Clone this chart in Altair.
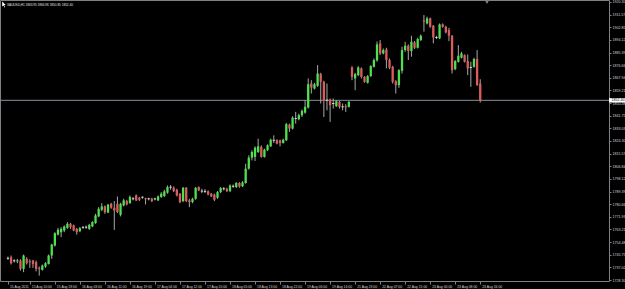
import json
import numpy as np
import pandas as pd
import altair as alt

symbol = "XAUUSD,H1"

opens = [1743.3,1744.0,1741.6,1741.3,1741.7,1736.0,1742.9,1741.3,1741.7,1740.6,
         1736.7,1735.3,1737.6,1739.4,1745.2,1752.1,1759.7,1761.3,1762.5,1764.3,
         1767.1,1766.0,1763.6,1762.0,1764.7,1764.8,1763.6,1765.3,1767.6,1772.2,
         1776.8,1779.1,1774.9,1780.9,1778.2,1780.9,1773.3,1779.8,1782.8,1781.4,
         1784.4,1786.7,1785.1,1785.5,1784.6,1784.4,1784.4,1784.3,1783.3,1785.6,
         1786.3,1788.6,1792.4,1792.0,1790.6,1787.9,1782.8,1792.0,1783.3,1782.1,
         1784.4,1792.5,1789.7,1789.5,1789.5,1787.9,1787.2,1785.1,1789.0,1791.3,
         1791.3,1789.7,1793.0,1792.5,1795.3,1793.0,1795.3,1805.2,1812.8,1813.3,
         1816.7,1820.2,1813.3,1817.9,1820.6,1824.8,1824.8,1824.8,1822.9,1824.8,
         1835.6,1832.9,1839.8,1839.3,1842.1,1843.9,1847.4,1864.0,1860.5,1862.4,
         1870.5,1865.2,1852.5,1852.9,1850.2,1848.3,1851.3,1847.9,1848.1,1847.9,
         1875.1,1867.5,1869.8,1874.4,1868.6,1864.5,1869.1,1875.5,1880.0,1891.7,
         1884.8,1887.5,1880.2,1875.5,1865.6,1862.9,1872.8,1887.1,1890.1,1886.4,
         1892.4,1888.7,1894.0,1907.6,1905.5,1909.0,1903.9,1895.8,1895.2,1904.8,
         1903.2,1900.9,1897.0,1873.9,1879.0,1881.8,1883.6,1879.5,1875.1,1875.5,
         1880.9,1863.95]
highs = [1744.5,1745.2,1742.6,1742.9,1742.6,1745.9,1744.0,1742.6,1742.2,1741.7,
         1737.6,1739.0,1740.6,1745.9,1753.3,1761.3,1764.3,1764.8,1766.0,1768.3,
         1767.8,1766.6,1764.3,1764.8,1765.5,1765.9,1767.1,1768.9,1774.0,1778.6,
         1781.4,1779.8,1780.9,1781.6,1782.8,1786.0,1781.6,1784.4,1783.7,1786.7,
         1785.6,1787.4,1785.6,1786.0,1785.1,1785.1,1785.1,1785.1,1786.7,1789.0,
         1790.6,1793.6,1793.9,1792.9,1791.3,1788.3,1792.5,1792.5,1784.4,1785.1,
         1792.5,1792.9,1791.3,1791.1,1790.2,1788.3,1787.9,1789.7,1792.5,1792.5,
         1792.0,1794.3,1794.3,1795.9,1795.9,1796.6,1808.6,1814.4,1817.9,1820.6,
         1825.9,1821.3,1819.0,1822.0,1825.9,1828.2,1825.5,1825.2,1825.9,1836.8,
         1836.3,1841.4,1844.4,1843.2,1846.0,1852.5,1867.5,1866.3,1864.5,1876.7,
         1871.4,1865.9,1864.0,1853.6,1853.6,1852.5,1852.0,1850.2,1849.7,1852.0,
         1876.0,1871.4,1876.0,1875.1,1869.1,1869.8,1876.7,1881.3,1893.0,1894.0,
         1888.2,1888.7,1881.3,1876.2,1866.3,1873.9,1889.4,1892.8,1891.0,1897.0,
         1893.3,1895.6,1897.9,1911.3,1910.2,1909.5,1904.4,1897.0,1905.5,1905.5,
         1903.9,1902.5,1897.5,1880.2,1890.5,1885.9,1884.1,1884.1,1879.0,1881.8,
         1887.1,1866.96]
lows = [1742.2,1739.0,1740.3,1739.9,1734.8,1733.7,1739.0,1736.7,1736.7,1734.3,
        1731.3,1734.8,1736.7,1739.0,1742.9,1751.4,1759.0,1757.9,1761.3,1763.6,
        1763.6,1762.0,1759.7,1761.3,1763.6,1763.6,1762.9,1764.8,1767.1,1771.7,
        1775.9,1774.0,1774.5,1777.5,1762.9,1774.5,1772.2,1779.1,1779.8,1780.9,
        1783.3,1782.8,1782.8,1784.4,1780.5,1783.3,1782.1,1783.3,1782.8,1785.1,
        1785.6,1787.9,1790.6,1789.0,1786.0,1781.4,1782.1,1782.1,1778.6,1781.4,
        1783.7,1789.7,1788.3,1788.3,1786.7,1785.6,1782.8,1784.4,1788.3,1790.2,
        1789.0,1789.0,1792.0,1791.8,1792.0,1792.5,1794.8,1804.5,1810.9,1810.5,
        1816.0,1812.8,1812.8,1817.4,1820.2,1822.9,1822.0,1820.6,1822.5,1824.3,
        1830.6,1832.2,1836.3,1838.6,1840.9,1843.2,1846.7,1857.1,1859.9,1861.7,
        1850.2,1840.9,1845.5,1837.5,1846.7,1847.9,1846.7,1845.5,1844.4,1847.4,
        1866.3,1859.4,1869.1,1867.5,1864.5,1864.0,1868.6,1875.1,1879.0,1883.6,
        1884.1,1874.4,1873.9,1864.0,1857.1,1861.0,1870.9,1885.9,1880.2,1882.5,
        1887.8,1888.2,1893.3,1899.8,1904.8,1902.5,1891.7,1894.7,1894.7,1902.5,
        1898.6,1893.3,1870.9,1873.2,1878.5,1881.3,1878.5,1869.8,1861.7,1874.9,
        1862.4,1850.85]
closes = [1743.3,1739.9,1741.6,1741.7,1736.0,1745.2,1739.9,1740.6,1739.4,1736.0,
          1736.0,1738.3,1739.9,1745.2,1752.8,1760.6,1763.0,1763.6,1765.3,1767.1,
          1764.8,1762.5,1761.3,1764.1,1764.7,1764.8,1766.4,1768.3,1772.9,1777.5,
          1779.1,1775.2,1780.3,1778.2,1776.3,1775.2,1780.9,1783.3,1780.5,1785.6,
          1784.4,1783.3,1783.7,1785.5,1784.2,1784.4,1782.8,1784.3,1786.0,1787.9,
          1789.5,1792.5,1792.4,1789.7,1786.7,1782.1,1792.0,1782.8,1782.1,1784.4,
          1792.0,1790.2,1789.7,1789.5,1787.4,1786.0,1783.7,1789.0,1791.8,1791.3,
          1789.7,1793.6,1793.0,1795.3,1792.9,1795.7,1805.2,1812.8,1816.7,1819.7,
          1820.6,1813.3,1818.3,1821.3,1825.2,1824.8,1822.5,1822.9,1825.2,1835.9,
          1832.9,1840.5,1839.8,1842.1,1845.1,1847.9,1863.5,1861.2,1863.5,1870.9,
          1865.2,1852.0,1852.5,1849.0,1850.2,1851.8,1847.9,1847.9,1847.8,1851.3,
          1868.6,1870.5,1875.1,1868.6,1865.2,1869.1,1876.0,1880.2,1891.0,1884.8,
          1887.1,1880.2,1874.9,1865.2,1862.9,1873.2,1887.1,1890.1,1886.4,1892.8,
          1888.7,1894.7,1897.0,1906.7,1909.0,1903.2,1895.8,1895.8,1904.8,1903.2,
          1899.3,1897.0,1873.2,1879.5,1883.2,1884.8,1879.0,1874.4,1875.1,1880.9,
          1862.9,1852.40]

price_ticks = [1920.30,1911.57,1902.85,1894.12,1885.39,1876.66,1867.94,1859.21,
               1850.48,1841.75,1833.03,1824.30,1815.57,1806.84,1798.12,1789.39,
               1780.66,1771.93,1763.21,1754.48,1745.75,1737.02,1728.30]

time_idx = [0,7,15,23,31,39,47,55,63,71,79,87,95,103,111,119,127,135,143,151]
time_labels = ["15 Aug 2011","15 Aug 10:00","15 Aug 18:00","16 Aug 03:00","16 Aug 11:00",
               "16 Aug 19:00","17 Aug 04:00","17 Aug 12:00","17 Aug 20:00","18 Aug 05:00",
               "18 Aug 13:00","18 Aug 22:00","19 Aug 06:00","19 Aug 14:00","21 Aug 23:00",
               "22 Aug 07:00","22 Aug 15:00","23 Aug 00:00","23 Aug 08:00","23 Aug 16:00"]

n = len(closes)
o = np.array(opens); c = np.array(closes)
df = pd.DataFrame({"i": np.arange(n), "open": o, "high": highs, "low": lows, "close": c})
df["dir"] = np.where(c > o, "up", np.where(c < o, "down", "flat"))
lo = np.minimum(o, c); hi = np.maximum(o, c)
thin = (hi - lo) < 0.7
mid = (hi + lo) / 2
df["body_lo"] = np.where(thin, mid - 0.35, lo)
df["body_hi"] = np.where(thin, mid + 0.35, hi)

last_price = closes[-1]
header = f"{symbol} {opens[-1]:.2f} {highs[-1]:.2f} {lows[-1]:.2f} {closes[-1]:.2f}"

FONT = "Liberation Sans"
FS_X = 3.4
FS_Y = 3.6
LBL = "#d4d4d4"
FRAME = "#808080"

xscale = alt.Scale(domain=[-0.943, 190.57], nice=False, zero=False)
yscale = alt.Scale(domain=[1727.61, 1921.68], nice=False, zero=False)

label_expr = f"{json.dumps(time_labels)}[indexof({json.dumps(time_idx)}, datum.value)]"
xaxis = alt.Axis(values=time_idx, labelExpr=label_expr, title=None, orient="bottom",
                 domain=False, grid=False, tickSize=3, tickColor=FRAME,
                 labelAlign="left", labelBaseline="top", labelPadding=0.5,
                 labelFontSize=FS_X, labelFont=FONT, labelColor=LBL,
                 labelOverlap=False, labelFlush=False, labelBound=False, labelOffset=1.5)
yaxis = alt.Axis(orient="right", values=price_ticks, format=".2f", title=None,
                 domain=False, grid=False, tickSize=2, tickColor=FRAME,
                 labelPadding=1, labelFontSize=FS_Y, labelFont=FONT, labelColor=LBL,
                 labelOverlap=False, labelFlush=False, labelBound=False, labelBaseline="middle")

base = alt.Chart(df).encode(x=alt.X("i:Q", scale=xscale, axis=xaxis))

wicks = base.mark_rule(color="#a8a8a8", strokeWidth=1).encode(
    y=alt.Y("low:Q", scale=yscale, axis=yaxis), y2="high:Q")

bodies = base.mark_bar(size=2.3, strokeWidth=0).encode(
    y=alt.Y("body_lo:Q", scale=yscale, axis=yaxis), y2="body_hi:Q",
    color=alt.Color("dir:N", legend=None,
                    scale=alt.Scale(domain=["up", "down", "flat"],
                                    range=["#4fe04f", "#dc5c5c", "#d8d8d8"])))

pdf = pd.DataFrame({"price": [last_price]})
price_line = alt.Chart(pdf).mark_rule(color="#8a8f99", strokeWidth=1).encode(
    y=alt.Y("price:Q", scale=yscale, axis=yaxis))
price_box = alt.Chart(pdf).mark_rule(color="white", strokeWidth=4.4, strokeCap="butt", clip=False).encode(
    x=alt.value(609), x2=alt.value(626), y=alt.Y("price:Q", scale=yscale, axis=yaxis))
price_txt = alt.Chart(pdf).mark_text(align="left", baseline="middle", fontSize=FS_Y, font=FONT,
                                     color="black", clip=False).encode(
    x=alt.value(611.5), y=alt.Y("price:Q", scale=yscale, axis=yaxis),
    text=alt.Text("price:Q", format=".2f"))

hdf = pd.DataFrame({"t": [header]})
head = alt.Chart(hdf).mark_text(align="left", baseline="middle", fontSize=3.1, font=FONT,
                                color="#e6e6e6").encode(x=alt.value(7), y=alt.value(5), text="t:N")
cursor = alt.Chart(hdf).mark_point(
    shape="M-0.6,-1L0.6,0.2L0.05,0.2L0.35,0.9L0.15,1L-0.15,0.3L-0.6,0.7Z",
    filled=True, color="white", size=36, opacity=1).encode(x=alt.value(4), y=alt.value(4.5))
shift_mark = alt.Chart(hdf).mark_point(shape="triangle-down", filled=True, color=FRAME,
                                       size=12, opacity=1).encode(x=alt.value(487), y=alt.value(2.5))

chart = alt.layer(price_line, wicks, bodies, price_box, price_txt, head, cursor, shift_mark).properties(
    width=609, height=281,
    autosize=alt.AutoSizeParams(type="none"),
    padding={"left": 0, "top": 0, "right": 16, "bottom": 8},
    background="black",
).configure_view(stroke=FRAME, strokeWidth=1, fill="black")

chart.save("out.html", embed_options={"renderer": "svg", "actions": False})
